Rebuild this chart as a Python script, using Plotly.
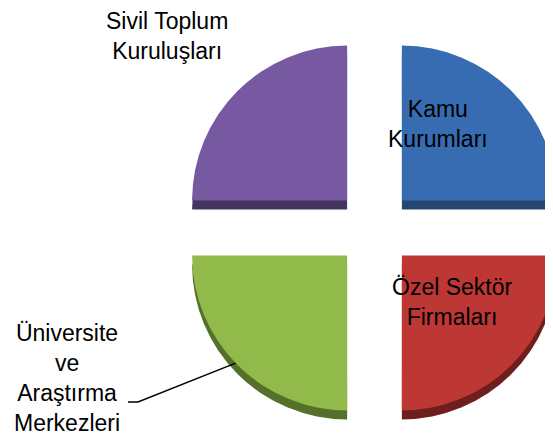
import math
import plotly.graph_objects as go

# data
labels = ["Kamu Kurumları", "Özel Sektör Firmaları",
          "Üniversite ve Araştırma Merkezleri", "Sivil Toplum Kuruluşları"]
values = [25, 25, 25, 25]
face_colors = ["#376cb2", "#bd3735", "#92ba4b", "#7659a1"]
edge_colors = ["#24466f", "#6e1f1d", "#55702a", "#45345f"]
label_text = ["Kamu<br>Kurumları", "Özel Sektör<br>Firmaları",
              "Üniversite<br>ve<br>Araştırma<br>Merkezleri", "Sivil Toplum<br>Kuruluşları"]

# figure is wider than the window so the right-hand slices run off the edge
W, H = 600, 437
PAGE_OFF = 8               # body margin of the html page
RADIUS = 155
PULL = 0.25
CX, CY = 374.5, 228        # pie centre on screen
HALF = RADIUS * (1 + PULL) # half size of pie box
DEPTH = 9                  # fake 3d thickness


def px_x(x):
    return (x - PAGE_OFF) / W


def px_y(y):
    return 1 - (y - PAGE_OFF) / H


dom_x = [px_x(CX - HALF), px_x(CX + HALF)]
dom_y = [px_y(CY + HALF), px_y(CY - HALF)]

fig = go.Figure()

# darker copy a few px lower gives the slab edge
fig.add_trace(
    go.Pie(
        labels=labels,
        values=values,
        sort=False,
        direction="clockwise",
        pull=[PULL] * 4,
        marker=dict(colors=edge_colors, line=dict(width=0)),
        textinfo="none",
        hoverinfo="skip",
        showlegend=False,
        domain=dict(x=dom_x, y=[dom_y[0] - DEPTH / H, dom_y[1] - DEPTH / H]),
    )
)
fig.add_trace(
    go.Pie(
        labels=labels,
        values=values,
        sort=False,
        direction="clockwise",
        pull=[PULL] * 4,
        marker=dict(colors=face_colors, line=dict(width=0)),
        textinfo="none",
        hovertemplate="%{label}<extra></extra>",
        showlegend=False,
        domain=dict(x=dom_x, y=dom_y),
    )
)

label_pos = [(438, 124), (452, 302), (67, 378), (167, 36)]
for txt, (x, y) in zip(label_text, label_pos):
    fig.add_annotation(
        x=px_x(x), y=px_y(y), xref="paper", yref="paper",
        xanchor="center", yanchor="middle",
        text=txt, showarrow=False, align="center",
        font=dict(family="Liberation Sans", size=23, color="black"),
    )

# leader line for the university label, ending on the green arc
off = PULL * RADIUS / math.sqrt(2)
ang = math.radians(44)
tx = CX - off - RADIUS * math.cos(ang)
ty = CY + off + RADIUS * math.sin(ang)
fig.add_shape(
    type="path", xref="paper", yref="paper",
    path=f"M {px_x(128)} {px_y(402)} L {px_x(138)} {px_y(402)} L {px_x(tx)} {px_y(ty)}",
    line=dict(color="black", width=1.5),
)

fig.update_layout(
    width=W,
    height=H,
    margin=dict(l=0, r=0, t=0, b=0),
    paper_bgcolor="white",
    plot_bgcolor="white",
)

fig.write_html("out.html")
